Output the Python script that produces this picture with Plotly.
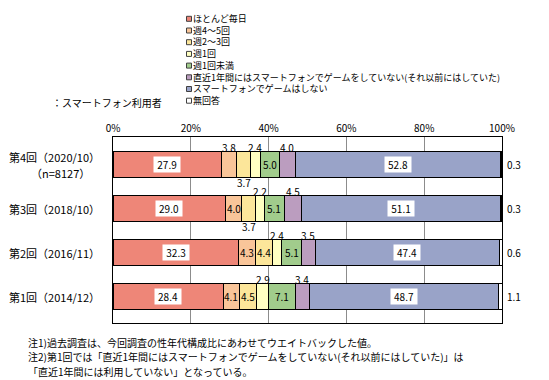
import plotly.graph_objects as go

# ---------------- data ----------------
categories = ["第4回（2020/10）", "第3回（2018/10）", "第2回（2016/11）", "第1回（2014/12）"]
sample_note = "（n=8127）"
series_names = [
    "ほとんど毎日",
    "週4～5回",
    "週2～3回",
    "週1回",
    "週1回未満",
    "直近1年間にはスマートフォンでゲームをしていない(それ以前にはしていた)",
    "スマートフォンでゲームはしない",
    "無回答",
]
daily = [27.9, 29.0, 32.3, 28.4]
week4_5 = [3.8, 4.0, 4.3, 4.1]
week2_3 = [3.7, 3.7, 4.4, 4.5]
week1 = [2.4, 2.2, 2.4, 2.9]
less_week1 = [5.0, 5.1, 5.1, 7.1]
not_last_year = [4.0, 4.5, 3.5, 3.4]
never_play = [52.8, 51.1, 47.4, 48.7]
no_answer = [0.3, 0.3, 0.6, 1.1]
x_tick_vals = [0, 20, 40, 60, 80, 100]
x_tick_labels = ["0%", "20%", "40%", "60%", "80%", "100%"]
user_note = "：スマートフォン利用者"
notes = [
    "注1)過去調査は、今回調査の性年代構成比にあわせてウエイトバックした値。",
    "注2)第1回では「直近1年間にはスマートフォンでゲームをしていない(それ以前にはしていた)」は",
    "「直近1年間には利用していない」となっている。",
]

series_values = [daily, week4_5, week2_3, week1, less_week1, not_last_year, never_play, no_answer]

# ---------------- styles ----------------
colors = ["#EE8678", "#F9C599", "#FCE69A", "#FFFFC2", "#A1CC8C", "#BB9DBF", "#99A3C8", "#FFFFFF"]
label_pos = [
    ["box"] * 4,
    ["above", "in", "in", "in"],
    ["below", "below", "in", "in"],
    ["above"] * 4,
    ["in"] * 4,
    ["above"] * 4,
    ["box"] * 4,
    ["right"] * 4,
]
FONT = "Noto Sans CJK JP, Noto Sans, sans-serif"
W, H = 549, 380
L, R, T, B = 105, 55, 129, 65
PW, PH = W - L - R, H - T - B


def px(xp):
    return (xp - L) / PW


def py(yp):
    return (H - B - yp) / PH


fig = go.Figure()
for name, vals, col in zip(series_names, series_values, colors):
    fig.add_trace(go.Bar(
        y=categories, x=vals, name=name, orientation="h",
        marker=dict(color=col, line=dict(color="#000000", width=1)),
        showlegend=False, hoverinfo="x+name",
    ))

annotations = []
shapes = []

# bar value labels
for ci, cat in enumerate(categories):
    cum = 0.0
    for si, vals in enumerate(series_values):
        v = vals[ci]
        mid = cum + v / 2
        cum += v
        pos = label_pos[si][ci]
        txt = f"{v:.1f}"
        base = dict(y=cat, xref="x", yref="y", text=txt, showarrow=False,
                    font=dict(family=FONT, size=10, color="#000000"))
        if pos == "box":
            annotations.append(dict(base, x=mid, bgcolor="#FFFFFF", width=26, height=15,
                                    align="center", borderpad=0))
        elif pos == "in":
            annotations.append(dict(base, x=mid))
        elif pos == "above":
            annotations.append(dict(base, x=mid, yshift=17))
        elif pos == "below":
            annotations.append(dict(base, x=mid, yshift=-18))
        elif pos == "right":
            annotations.append(dict(base, x=100, xanchor="left", xshift=3))

# category labels
for ci, cat in enumerate(categories):
    if ci == 0:
        annotations.append(dict(x=px(94), xref="paper", y=cat, yref="y", text=cat,
                                xanchor="right", showarrow=False, yshift=8,
                                font=dict(family=FONT, size=11, color="#000000")))
        annotations.append(dict(x=px(52), xref="paper", y=cat, yref="y", text=sample_note,
                                xanchor="center", showarrow=False, yshift=-8,
                                font=dict(family=FONT, size=11, color="#000000")))
    else:
        annotations.append(dict(x=px(94), xref="paper", y=cat, yref="y", text=cat,
                                xanchor="right", showarrow=False,
                                font=dict(family=FONT, size=11, color="#000000")))

# custom legend: one multi-line text block with matching colour squares
LEG_FONT = 9
line_h = LEG_FONT * 1.3
n_items = len(series_names)
leg_mid = 51.75
leg_top = leg_mid - n_items * line_h / 2
for i, col in enumerate(colors):
    yc = leg_top + (i + 0.5) * line_h
    shapes.append(dict(type="rect", xref="paper", yref="paper",
                       x0=px(178.5), x1=px(183.5), y0=py(yc + 2.5), y1=py(yc - 2.5),
                       fillcolor=col, line=dict(color="#404040", width=1)))
annotations.append(dict(x=px(184), y=py(leg_mid), xref="paper", yref="paper",
                        text="<br>".join(series_names), align="left",
                        xanchor="left", yanchor="middle", showarrow=False, borderpad=0,
                        font=dict(family=FONT, size=LEG_FONT, color="#000000")))

annotations.append(dict(x=px(42), y=py(94), xref="paper", yref="paper", text=user_note,
                        xanchor="left", yanchor="middle", showarrow=False,
                        font=dict(family=FONT, size=10, color="#000000")))

for i, line in enumerate(notes):
    annotations.append(dict(x=px(18), y=py(334 + i * 14.5), xref="paper", yref="paper", text=line,
                            xanchor="left", yanchor="middle", showarrow=False,
                            font=dict(family=FONT, size=10, color="#000000")))

fig.update_layout(
    width=W, height=H,
    margin=dict(l=L, r=R, t=T, b=B, autoexpand=False),
    barmode="stack", bargap=0.42,
    plot_bgcolor="#FFFFFF", paper_bgcolor="#FFFFFF",
    font=dict(family=FONT, size=10, color="#000000"),
    xaxis=dict(range=[0, 100], side="top", tickvals=x_tick_vals, ticktext=x_tick_labels,
               showgrid=True, gridcolor="#8C8C8C", gridwidth=1,
               showline=True, linecolor="#000000", linewidth=1, mirror=True,
               ticks="", zeroline=False, fixedrange=True, automargin=False,
               tickfont=dict(family=FONT, size=10, color="#000000")),
    yaxis=dict(categoryorder="array", categoryarray=categories, autorange="reversed",
               showticklabels=False, showgrid=False,
               showline=True, linecolor="#000000", linewidth=1, mirror=True,
               ticks="", zeroline=False, fixedrange=True, automargin=False),
    annotations=annotations, shapes=shapes,
    showlegend=False,
)

fig.write_html("out.html")
